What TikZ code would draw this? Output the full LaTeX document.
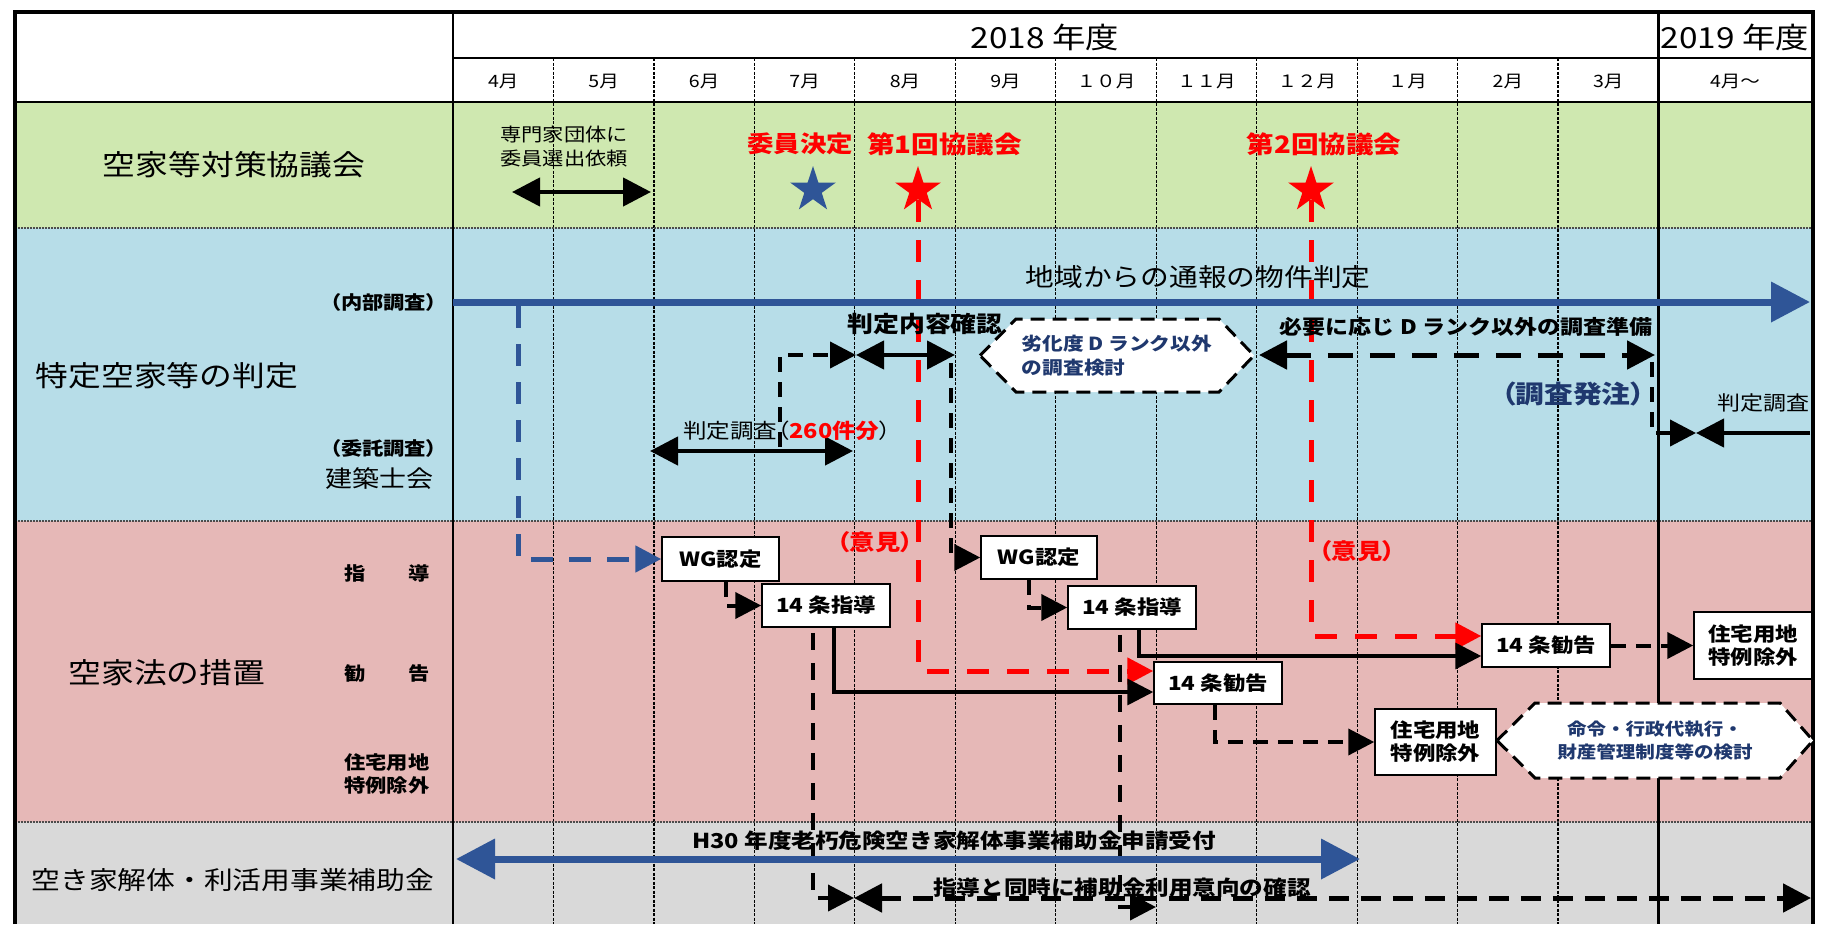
\documentclass[tikz,border=0pt]{standalone}
\usepackage{fontspec}
\setmainfont{Noto Sans CJK JP}[FakeStretch=1.15]
\newfontfamily\pf{Noto Sans CJK JP}[FakeStretch=1.15,RawFeature=+palt]
\usetikzlibrary{arrows.meta,shapes.geometric,calc}
\definecolor{cgreen}{RGB}{207,232,176}
\definecolor{cblue}{RGB}{183,221,232}
\definecolor{cpink}{RGB}{230,184,183}
\definecolor{cgrey}{RGB}{217,217,217}
\definecolor{navy}{RGB}{31,56,110}
\definecolor{barblue}{RGB}{47,85,151}
\newcommand\fsz[2]{\fontsize{#1pt}{#2pt}\selectfont}
\tikzset{
  bigtip/.tip={Triangle[length=28pt,width=28pt]},
  smalltip/.tip={Triangle[length=26pt,width=26pt]},
  bluetip/.tip={Triangle[length=39pt,width=39pt]},
  txt/.style={inner sep=0pt,text=black},
  box/.style={draw=black,line width=1.5pt,fill=white,inner sep=0pt,font=\bfseries\fsz{19.5}{23}},
  dbl/.style={draw=black,line width=4.5pt,arrows={bigtip-bigtip}},
  ddbl/.style={draw=black,line width=5pt,dash pattern=on 25pt off 17pt,arrows={bigtip-bigtip}},
  ddbltwo/.style={draw=black,line width=5pt,dash pattern=on 20pt off 12pt,arrows={bigtip-bigtip}},
  dconn/.style={draw=black,line width=4pt,dash pattern=on 15pt off 10pt,arrows={-smalltip}},
  dconnlong/.style={draw=black,line width=4pt,dash pattern=on 17pt off 13pt,arrows={-smalltip}},
  sconn/.style={draw=black,line width=3.5pt,arrows={-smalltip}},
  solarrow/.style={draw=black,line width=4.5pt,arrows={-bigtip}},
  reddash/.style={draw=red,line width=5pt,dash pattern=on 22pt off 18pt,arrows={-smalltip}},
  bluedash/.style={draw=barblue,line width=5pt,dash pattern=on 22pt off 16pt,arrows={-smalltip}},
  bluebar/.style={draw=barblue,line width=7pt,arrows={-bluetip}},
  bluedbl/.style={draw=barblue,line width=7pt,arrows={bluetip-bluetip}},
  gridline/.style={draw=black,line width=1.2pt,dash pattern=on 3pt off 1.5pt},
  rowsep/.style={draw=black!70,line width=1.5pt,dash pattern=on 2pt off 1pt},
  hexline/.style={draw=black,fill=white,line width=3pt,dash pattern=on 14pt off 8pt},
  starshape/.style={star,star points=5,star point ratio=2.618,minimum size=48pt,inner sep=0pt,draw=none},
}
\begin{document}
\begin{tikzpicture}[x=1pt,y=-1pt]
\useasboundingbox (0,0) rectangle (1833,924);
\fill[white] (0,0) rectangle (1833,924);
% row backgrounds
\fill[cgreen] (15,102) rectangle (1813,228);
\fill[cblue] (15,228) rectangle (1813,521);
\fill[cpink] (15,521) rectangle (1813,822);
\fill[cgrey] (15,822) rectangle (1813,924);
% grid
\foreach \k in {1,...,11} \draw[gridline] ({453+100.46*\k},58) -- ({453+100.46*\k},924);
\foreach \yy in {228,521,822} \draw[rowsep] (15,\yy) -- (1813,\yy);
\draw[line width=2.5pt] (453,12) -- (453,924);
\draw[line width=2.5pt] (1658.5,12) -- (1658.5,924);
\draw[line width=2.5pt] (453,58) -- (1813,58);
\draw[line width=2.5pt] (15,102) -- (1813,102);
\draw[line width=3.5pt] (15,924) -- (15,12) -- (1813,12) -- (1813,924);

% header
\node[txt,font=\fsz{29}{30}] (y18) at (1045,37) {2018 年度};
\node[txt,font=\fsz{29}{30}] (y19) at (1735,37) {2019 年度};
\foreach \m [count=\i from 0] in {4月,5月,6月,7月,8月,9月,１０月,１１月,１２月,１月,2月,3月}
  \node[txt,font=\fsz{17}{18}] (m\i) at ({453+100.46*\i+50.23},81) {\m};
\node[txt,font=\fsz{17}{18}] (m12) at (1735,81) {4月～};

% green row
\node[txt,font=\fsz{28.5}{30}] (lg) at (234,165) {空家等対策協議会};
\node[txt,font=\fsz{18.5}{24},align=center] (req) at (564,147) {専門家団体に\\委員選出依頼};
\coordinate (ga) at (512,192);
\coordinate (gb) at (651,192);
\draw[dbl] (ga) -- (gb);
\node[txt,text=red,font=\bfseries\fsz{23}{24}] (kettei) at (800,144) {委員決定};
\node[txt,text=red,font=\bfseries\fsz{24}{24}] (kai1) at (944.5,144) {第1回協議会};
\node[txt,text=red,font=\bfseries\fsz{24}{24}] (kai2) at (1324,144) {第2回協議会};
\node[starshape,fill=barblue] (s0) at (813,190) {};
\node[starshape,fill=red] (s1) at (918,190) {};
\node[starshape,fill=red] (s2) at (1311,190) {};

% blue row labels
\node[txt,anchor=east,font=\pf\bfseries\fsz{18.5}{20}] (naibu) at (437,302) {（内部調査）};
\node[txt,font=\fsz{28.5}{30}] (lb) at (167,376) {特定空家等の判定};
\node[txt,anchor=east,font=\pf\bfseries\fsz{18.5}{20}] (itaku) at (437,448) {（委託調査）};
\node[txt,anchor=east,font=\fsz{23.5}{26}] (kenchiku) at (434,479) {建築士会};

% pink row labels
\node[txt,anchor=west,font=\bfseries\fsz{18.5}{20}] (shido) at (344,573) {指　　導};
\node[txt,anchor=west,font=\bfseries\fsz{18.5}{20}] (kankoku) at (344,673) {勧　　告};
\node[txt,anchor=west,font=\bfseries\fsz{18.5}{23},align=left] (jutaku) at (344,773.5) {住宅用地\\特例除外};
\node[txt,font=\fsz{28.5}{30}] (lp) at (167,673) {空家法の措置};

% grey row label
\node[txt,font=\fsz{25}{28}] (lgr) at (233,880) {空き家解体・利活用事業補助金};

% boxes
\node[box,minimum width=117pt,minimum height=44pt] (wg1) at (720.5,559) {WG認定};
\node[box,minimum width=128pt,minimum height=43pt] (shi1) at (826,605.5) {14 条指導};
\node[box,minimum width=116pt,minimum height=43pt] (wg2) at (1039,557.5) {WG認定};
\node[box,minimum width=128pt,minimum height=43pt] (shi2) at (1132,607.5) {14 条指導};
\node[box,minimum width=128pt,minimum height=42pt] (k1) at (1218,683) {14 条勧告};
\node[box,minimum width=128pt,minimum height=43pt] (k2) at (1546,645.5) {14 条勧告};
\node[box,minimum width=121pt,minimum height=66pt,align=center] (j1) at (1435.5,742) {住宅用地\\特例除外};
\node[box,minimum width=118pt,minimum height=67pt,align=center] (j2) at (1753,645.5) {住宅用地\\特例除外};

% red dashed opinion lines
\draw[reddash] ([yshift=-10pt]s1.center) |- ([yshift=12pt]k1.west);
\draw[reddash] ([yshift=-10pt]s2.center) |- ([yshift=9.5pt]k2.west);
\node[txt,text=red,font=\pf\bfseries\fsz{22}{24}] (iken1) at (875,542) {（意見）};
\node[txt,text=red,font=\pf\bfseries\fsz{22}{24}] (iken2) at (1357,551) {（意見）};

% internal survey bar
\coordinate (bl0) at (453,302);
\coordinate (bl1) at (1810,302);
\draw[bluebar] (bl0) -- (bl1);
\node[txt,font=\fsz{25}{26}] (chiiki) at (1198,277) {地域からの通報の物件判定};
\coordinate (bd0) at (518,306);
\draw[bluedash] (bd0) |- (wg1.west);

% commissioned survey
\coordinate (ja) at (650,451);
\coordinate (jb) at (853,451);
\draw[dbl] (ja) -- (jb);
\node[txt,anchor=west,font=\pf\fsz{20.5}{24}] (hantei) at (683,431) {判定調査（\textcolor{red}{\bfseries 260件分}）};
\coordinate (dd0) at (780,447);
\coordinate (ha) at (856,355);
\coordinate (hb) at (955,355);
\draw[dconn] (dd0) |- (ha);
\draw[dbl] (ha) -- (hb);
\node[txt,font=\bfseries\fsz{22.5}{24}] (naiyo) at (925,324) {判定内容確認};
\coordinate (dv0) at (951,363);
\draw[dconn] (dv0) |- (wg2.west);

% hexagon 1
\coordinate (hc1) at (1117,355.5);
\draw[hexline] ($(hc1)+(-137,0)$) -- ($(hc1)+(-101,-36.5)$) -- ($(hc1)+(102,-36.5)$) -- ($(hc1)+(137,0)$) -- ($(hc1)+(102,36.5)$) -- ($(hc1)+(-101,36.5)$) -- cycle;
\node[txt,text=navy,font=\bfseries\fsz{18}{24},align=left] (hex1) at (hc1) {劣化度 D ランク以外\\の調査検討};

% preparation
\node[txt,font=\bfseries\fsz{20}{22}] (hitsuyo) at (1466,327) {必要に応じ D ランク以外の調査準備};
\coordinate (na) at (1259,355);
\coordinate (nb) at (1655,355);
\draw[ddbl] (na) -- (nb);
\coordinate (nv0) at (1652,362);
\coordinate (nm) at (1696,433);
\draw[dconn] (nv0) |- (nm);
\coordinate (hs) at (1810,433);
\draw[solarrow] (hs) -- (nm);
\node[txt,anchor=east,font=\fsz{20}{24}] (hantei2) at (1810,403) {判定調査};
\node[txt,text=navy,font=\pf\bfseries\fsz{25}{28}] (hatchu) at (1573,394) {（調査発注）};

% measures connectors
\draw[dconn] ([xshift=5.5pt]wg1.south) |- (shi1.west);
\draw[sconn] ([xshift=8pt]shi1.south) |- ([yshift=-9pt]k1.west);
\draw[dconn] ([xshift=-10pt]wg2.south) |- (shi2.west);
\draw[sconn] ([xshift=7pt]shi2.south) |- ([yshift=-10.5pt]k2.west);
\draw[dconn] ([xshift=-3pt]k1.south) |- (j1.west);
\draw[dconn] (k2.east) -- (j2.west);

% hexagon 2
\coordinate (hc2) at (1655,740.5);
\draw[hexline] ($(hc2)+(-158,0)$) -- ($(hc2)+(-120,-37.5)$) -- ($(hc2)+(125,-37.5)$) -- ($(hc2)+(158,0)$) -- ($(hc2)+(125,37.5)$) -- ($(hc2)+(-120,37.5)$) -- cycle;
\node[txt,text=navy,font=\bfseries\fsz{17}{23},align=center] (hex2) at (hc2) {命令・行政代執行・\\財産管理制度等の検討};

% subsidy row
\coordinate (sa) at (456,859);
\coordinate (sb) at (1360,859);
\coordinate (ca) at (854,898);
\coordinate (cb) at (1811,898);
\coordinate (cc) at (1156,907);
\draw[dconnlong] ([xshift=-13pt,yshift=-5pt]shi1.south) |- (ca);
\draw[dconnlong] ([xshift=-12pt,yshift=-5pt]shi2.south) |- (cc);
\draw[bluedbl] (sa) -- (sb);
\draw[ddbltwo] (ca) -- (cb);
\node[txt,font=\bfseries\fsz{20.5}{22}] (h30) at (954,841) {H30 年度老朽危険空き家解体事業補助金申請受付};
\node[txt,font=\bfseries\fsz{20.5}{22}] (kakunin) at (1122,888) {指導と同時に補助金利用意向の確認};
\end{tikzpicture}
\end{document}
